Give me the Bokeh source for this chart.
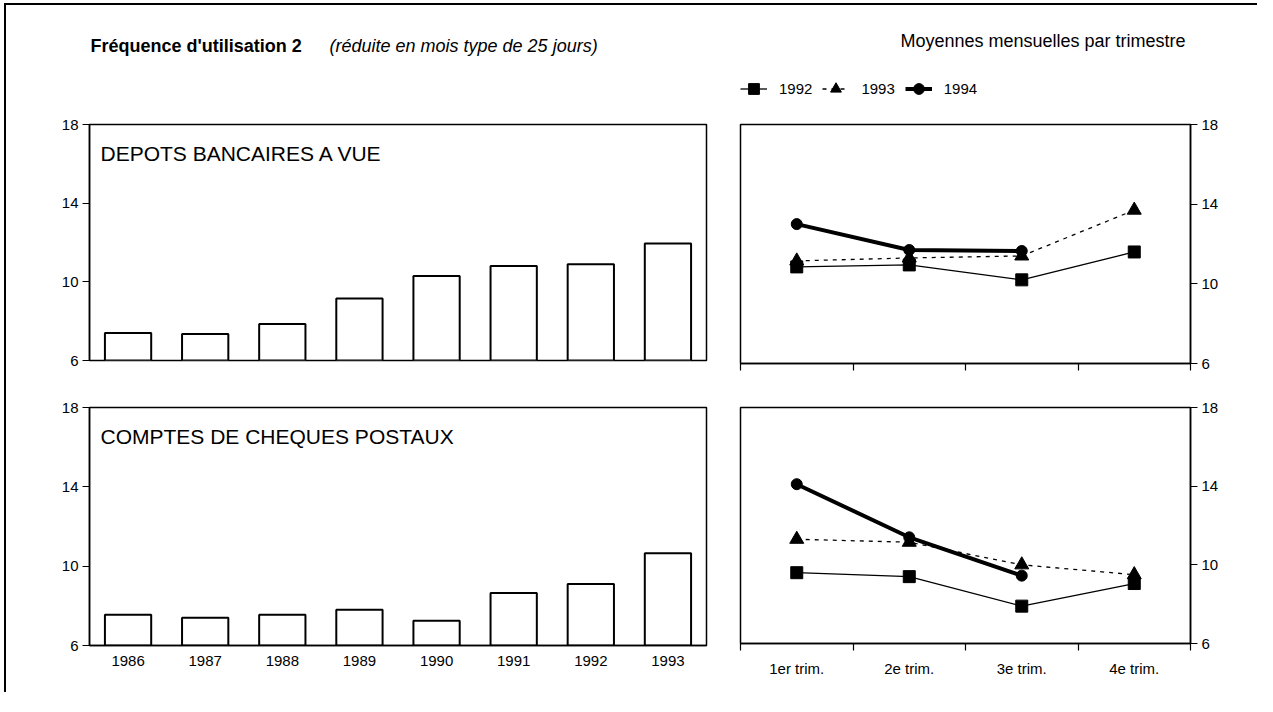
import numpy as np
from bokeh.plotting import figure
from bokeh.models import Range1d, FactorRange, FixedTicker, Label, Legend, LegendItem
from bokeh.layouts import column, row
from bokeh.embed import file_html
from bokeh.resources import INLINE

# ---------------- data ----------------
years = ["1986", "1987", "1988", "1989", "1990", "1991", "1992", "1993"]
depots_bancaires = [7.4, 7.35, 7.85, 9.15, 10.3, 10.8, 10.9, 11.95]
cheques_postaux = [7.55, 7.4, 7.55, 7.8, 7.25, 8.65, 9.1, 10.65]

quarters = ["1er trim.", "2e trim.", "3e trim.", "4e trim."]
depots_1992 = [10.85, 10.95, 10.2, 11.6]
depots_1993 = [11.15, 11.3, 11.4, 13.7]
depots_1994 = [13.0, 11.7, 11.65]
ccp_1992 = [9.6, 9.4, 7.9, 9.05]
ccp_1993 = [11.3, 11.15, 10.0, 9.5]
ccp_1994 = [14.1, 11.4, 9.45]

series_names = ["1992", "1993", "1994"]
y_ticks = [6, 10, 14, 18]
y_min, y_max = 6, 18

title_bold = "Fréquence d'utilisation 2"
title_italic = "(réduite en mois type de 25 jours)"
title_right = "Moyennes mensuelles par trimestre"
label_top = "DEPOTS BANCAIRES A VUE"
label_bottom = "COMPTES DE CHEQUES POSTAUX"

FONT = "Liberation Sans"

# quarter positions on a numeric axis: centres and boundaries from the category count
qx = list(np.arange(len(quarters)) + 0.5)
qbounds = list(np.arange(len(quarters) + 1).astype(float))

series_style = {
    "1992": dict(line_dash="solid", line_width=1.3, marker="square", size=12),
    "1993": dict(line_dash="4 5", line_width=1.3, marker="triangle", size=14),
    "1994": dict(line_dash="solid", line_width=4, marker="circle", size=11),
}


def add_series(p, y, name, visible=True):
    st = series_style[name]
    x = qx[:len(y)]
    lr = p.line(x=x, y=y, line_color="black", line_width=st["line_width"],
                line_dash=st["line_dash"], visible=visible)
    sr = p.scatter(x=x, y=y, marker=st["marker"], size=st["size"],
                   fill_color="black", line_color="black", visible=visible)
    return lr, sr


def style_common(p):
    p.toolbar_location = None
    p.xgrid.visible = False
    p.ygrid.visible = False
    p.outline_line_color = "black"
    p.outline_line_width = 1.5
    p.background_fill_color = "white"
    p.border_fill_color = "white"


def style_y(ax):
    ax.ticker = FixedTicker(ticks=y_ticks)
    ax.major_tick_out = 7
    ax.major_tick_in = 0
    ax.minor_tick_out = 0
    ax.minor_tick_in = 0
    ax.major_label_standoff = 4
    ax.axis_line_color = "black"
    ax.axis_line_width = 1.5
    ax.major_tick_line_width = 1.2
    ax.major_label_text_font = FONT
    ax.major_label_text_font_size = "15px"
    ax.major_label_text_color = "black"


def bar_panel(values, text, show_x, frame_h, top, bottom):
    p = figure(x_range=FactorRange(*years), y_range=Range1d(y_min, y_max),
               frame_width=617, frame_height=frame_h,
               min_border_left=83, min_border_right=16,
               min_border_top=top, min_border_bottom=bottom,
               output_backend="svg", toolbar_location=None)
    style_common(p)
    style_y(p.yaxis[0])
    p.vbar(x=years, top=values, bottom=y_min, width=0.6,
           fill_color="white", line_color="black", line_width=2)
    if show_x:
        ax = p.xaxis[0]
        ax.major_tick_out = 0
        ax.major_tick_in = 0
        ax.axis_line_color = "black"
        ax.axis_line_width = 1.5
        ax.major_label_standoff = 10
        ax.major_label_text_font = FONT
        ax.major_label_text_font_size = "15px"
        ax.major_label_text_color = "black"
    else:
        p.xaxis.visible = False
    p.add_layout(Label(x=11, y=frame_h - 29, x_units="screen", y_units="screen",
                       text=text, text_font=FONT, text_font_size="21px",
                       text_baseline="alphabetic", text_color="black"))
    return p


def line_panel(s92, s93, s94, show_x, frame_h, top, bottom):
    p = figure(x_range=Range1d(0, len(quarters)), y_range=Range1d(y_min, y_max),
               y_axis_location="right",
               frame_width=450, frame_height=frame_h,
               min_border_left=18, min_border_right=67,
               min_border_top=top, min_border_bottom=bottom,
               output_backend="svg", toolbar_location=None)
    style_common(p)
    style_y(p.yaxis[0])
    ax = p.xaxis[0]
    if show_x:
        ax.ticker = FixedTicker(ticks=qx, minor_ticks=qbounds)
        ax.major_label_overrides = {float(v): q for v, q in zip(qx, quarters)}
    else:
        ax.ticker = FixedTicker(ticks=[], minor_ticks=qbounds)
    ax.major_tick_out = 0
    ax.major_tick_in = 0
    ax.minor_tick_out = 7
    ax.minor_tick_in = 0
    ax.minor_tick_line_color = "black"
    ax.minor_tick_line_width = 1.2
    ax.axis_line_color = "black"
    ax.axis_line_width = 1.5
    ax.major_label_standoff = 9
    ax.major_label_text_font = FONT
    ax.major_label_text_font_size = "15px"
    ax.major_label_text_color = "black"
    add_series(p, s92, "1992")
    add_series(p, s93, "1993")
    add_series(p, s94, "1994")
    return p


# ---------------- header ----------------
HW, HH = 1251, 103
hdr = figure(width=HW, height=HH, x_range=Range1d(0, HW), y_range=Range1d(0, HH),
             min_border=0, output_backend="svg", toolbar_location=None)
hdr.axis.visible = False
hdr.xgrid.visible = False
hdr.ygrid.visible = False
hdr.outline_line_color = None
hdr.add_layout(Label(x=84, y=HH - 52 + 12, x_units="screen", y_units="screen",
                     text=title_bold, text_font=FONT, text_font_style="bold",
                     text_font_size="18px", text_baseline="alphabetic", text_color="black"))
hdr.add_layout(Label(x=323, y=HH - 52 + 12, x_units="screen", y_units="screen",
                     text=title_italic, text_font=FONT, text_font_style="italic",
                     text_font_size="18px", text_baseline="alphabetic", text_color="black"))
hdr.add_layout(Label(x=1179, y=HH - 47 + 12, x_units="screen", y_units="screen",
                     text=title_right, text_font=FONT, text_align="right",
                     text_font_size="18px", text_baseline="alphabetic", text_color="black"))

items = []
for name, yv in zip(series_names, [depots_1992, depots_1993, depots_1994]):
    lr, sr = add_series(hdr, yv, name, visible=False)
    items.append(LegendItem(label=name, renderers=[lr, sr]))
legend = Legend(items=items, orientation="horizontal", location=(734, 6),
                glyph_width=27, glyph_height=27, label_height=27, label_standoff=12,
                spacing=10, padding=0, margin=0, border_line_color=None,
                background_fill_alpha=0, label_text_font=FONT,
                label_text_font_size="15px", label_text_color="black")
hdr.add_layout(legend)

# ---------------- panels ----------------
tl = bar_panel(depots_bancaires, label_top, False, 236, 16, 22)
tr = line_panel(depots_1992, depots_1993, depots_1994, False, 239, 10, 25)
bl = bar_panel(cheques_postaux, label_bottom, True, 238, 25, 47)
br = line_panel(ccp_1992, ccp_1993, ccp_1994, True, 236, 22, 52)

root = column(hdr, row(tl, tr), row(bl, br),
              styles={"margin-left": "4px", "margin-top": "3px",
                      "border-left": "2px solid black", "border-top": "2px solid black"})

open("out.html", "w").write(file_html(root, INLINE))
